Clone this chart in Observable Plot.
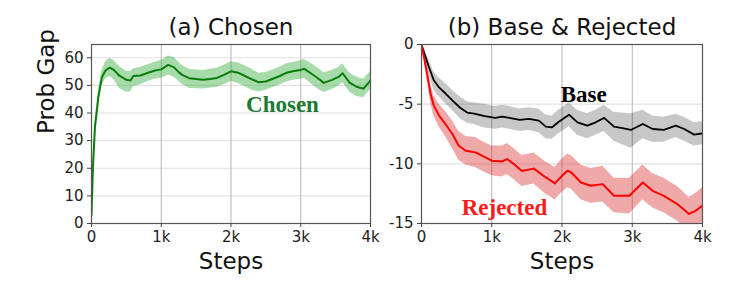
<!DOCTYPE html>
<html><head><meta charset="utf-8">
<script src="https://cdn.jsdelivr.net/npm/d3@7"></script>
<script src="https://cdn.jsdelivr.net/npm/@observablehq/plot@0.6"></script>
<style>
body{margin:0;background:#fff}
#wrap{position:relative;width:747px;height:288px;overflow:hidden}
#wrap svg{position:absolute;top:0}
</style>
</head><body><div id="wrap"></div>
<script>
// ---------- data ----------
const titles = ["(a) Chosen", "(b) Base & Rejected"];
const xLabel = "Steps";
const yLabel = "Prob Gap";
const seriesNames = ["Chosen", "Base", "Rejected"];

const xTicks = [0, 1000, 2000, 3000, 4000];
const xTickLabels = ["0", "1k", "2k", "3k", "4k"];
const yTicksA = [0, 10, 20, 30, 40, 50, 60];
const yTickLabelsA = ["0", "10", "20", "30", "40", "50", "60"];
const yTicksB = [0, -5, -10, -15];
const yTickLabelsB = ["0", "-5", "-10", "-15"];

// (a) Chosen
const stepsA = [0,20,50,100,150,200,260,320,400,500,560,600,700,800,900,1000,1100,1180,1250,1300,1400,1500,1600,1700,1800,1900,2000,2100,2200,2300,2400,2500,2600,2700,2800,2900,3000,3050,3150,3250,3330,3450,3550,3600,3700,3800,3900,4000];
const chosenMean = [3,20,35,46,53,55.4,56.4,55.6,53.5,52,51.8,53.4,53.6,54.5,55.3,55.8,57.4,56.6,54.8,53.8,52.6,52.3,52,52.3,52.7,53.8,55.1,54.6,53.4,52.2,51.1,51.4,52.4,53.4,54.6,55.2,55.6,56,54.3,52.5,50.9,52,53.2,54.4,51,49.5,48.8,51.8];
const chosenLow  = [3,19,33,43.5,50,52.3,53.2,52,49,47.5,47.6,49.5,50.2,51.3,52.2,52.6,53.8,53,51.5,50.4,49,48.8,48.7,49,49.3,50.2,51.4,50.8,49.5,48.2,47.6,48.2,49.2,50.1,51.3,51.9,52.2,52.6,50.6,48.6,47.4,48.5,49.8,51,47.6,46,45.5,48.5];
const chosenHigh = [3,21,37,48.5,55.5,58.5,59.8,59,56.8,55,55,56,56.5,57.4,58.3,59,60.6,60.2,58.4,57.2,55.8,55.6,55.4,55.8,56.2,57.3,58.5,58.2,57.1,55.8,54.4,54.7,55.6,56.6,57.8,58.4,58.9,59.4,57.9,56.2,54.6,55.4,56.6,57.8,54.5,53,52.2,55];

// (b) Base & Rejected
const stepsBase = [0,50,100,175,250,350,450,550,650,750,900,1050,1150,1250,1400,1530,1670,1770,1860,1950,2100,2220,2360,2480,2600,2740,2860,2980,3150,3290,3450,3620,3740,3880,4000];
const baseMean = [0,-0.9,-1.8,-3.0,-3.6,-4.15,-4.75,-5.3,-5.7,-5.8,-6.0,-6.15,-6.04,-6.15,-6.32,-6.24,-6.38,-6.88,-6.94,-6.5,-5.88,-6.52,-6.8,-6.52,-6.15,-6.88,-7.0,-7.16,-6.66,-7.08,-7.16,-6.8,-7.08,-7.55,-7.45];
const baseLow  = [0,-1.2,-2.4,-3.8,-4.4,-5.0,-5.6,-6.2,-6.6,-6.7,-7.0,-7.1,-7.0,-7.1,-7.3,-7.2,-7.4,-7.9,-7.95,-7.5,-6.9,-7.6,-7.9,-7.6,-7.3,-8.1,-8.4,-8.7,-7.9,-8.2,-8.2,-7.8,-8.1,-8.5,-8.4];
const baseHigh = [0,-0.6,-1.2,-2.3,-2.8,-3.3,-3.9,-4.4,-4.8,-4.9,-5.0,-5.2,-5.1,-5.2,-5.4,-5.3,-5.4,-5.9,-6.0,-5.5,-4.9,-5.5,-5.8,-5.5,-5.1,-5.7,-5.75,-5.8,-5.5,-6.0,-6.1,-5.85,-6.1,-6.55,-6.45];

const stepsRej = [0,40,80,130,175,250,340,440,530,630,770,860,1000,1150,1220,1310,1430,1600,1760,1900,2000,2080,2130,2270,2410,2580,2740,2960,3150,3290,3450,3640,3810,3900,4000];
const rejMean = [0,-1.2,-2.46,-4.14,-5.12,-5.96,-6.66,-7.5,-8.48,-8.9,-9.04,-9.32,-9.74,-9.8,-9.6,-10.0,-10.6,-10.4,-11.1,-11.64,-11.0,-10.58,-10.7,-11.56,-11.84,-11.7,-12.68,-12.68,-11.56,-12.26,-12.68,-13.37,-14.2,-13.94,-13.5];
const rejLow  = [0,-1.4,-3.0,-4.9,-6.0,-6.9,-7.7,-8.7,-9.7,-10.1,-10.3,-10.6,-11.0,-11.1,-10.9,-11.3,-11.9,-11.7,-12.5,-13.0,-12.4,-12.0,-12.1,-13.0,-13.3,-13.2,-14.1,-14.2,-13.0,-13.7,-14.1,-14.8,-15.6,-15.4,-14.9];
const rejHigh = [0,-1.0,-1.9,-3.4,-4.3,-5.0,-5.6,-6.4,-7.3,-7.7,-7.8,-8.1,-8.5,-8.5,-8.3,-8.7,-9.3,-9.1,-9.8,-10.3,-9.6,-9.2,-9.3,-10.1,-10.4,-10.2,-11.2,-11.2,-10.1,-10.8,-11.2,-11.9,-12.8,-12.5,-12.0];

// ---------- build ----------
const rows = (steps, mean, lo, hi) => steps.map((s, i) => ({step: s, mean: mean[i], lo: lo[i], hi: hi[i]}));
const chosen = rows(stepsA, chosenMean, chosenLow, chosenHigh);
const base = rows(stepsBase, baseMean, baseLow, baseHigh);
const rej = rows(stepsRej, rejMean, rejLow, rejHigh);

const FONT = "DejaVu Sans";
const SERIF = "Liberation Serif";
const fmt = (ticks, labels) => d => labels[ticks.indexOf(d)];

function common(yTicks, yLabels, gridYTicks) {
  return [
    Plot.gridY(gridYTicks, {stroke: "#e2e2e2", strokeOpacity: 1, strokeWidth: 1.2}),
    Plot.gridX([1000, 2000, 3000], {stroke: "#b4b4b4", strokeOpacity: 1, strokeWidth: 1}),
  ];
}
function axes(yTicks, yLabels) {
  return [
    Plot.frame({stroke: "#555", strokeWidth: 1.2}),
    Plot.axisX({ticks: xTicks, tickFormat: fmt(xTicks, xTickLabels), tickSize: 4, tickPadding: 4, fontSize: 15, label: null, stroke: "#444"}),
    Plot.axisY({ticks: yTicks, tickFormat: fmt(yTicks, yLabels), tickSize: 4, tickPadding: 4, fontSize: 15, label: null, stroke: "#444"}),
    Plot.text([xLabel], {frameAnchor: "bottom", lineAnchor: "bottom", dy: 45, fontSize: 23, fill: "#111"}),
  ];
}

const plotA = Plot.plot({
  width: 375, height: 288,
  marginLeft: 91, marginRight: 5, marginTop: 44, marginBottom: 65,
  x: {domain: [0, 4000]},
  y: {domain: [0, 64.8]},
  style: {fontFamily: FONT, fontSize: "15px", color: "#222", background: "transparent", overflow: "visible"},
  marks: [
    ...common(yTicksA, yTickLabelsA, [10, 20, 30, 40, 50, 60]),
    Plot.areaY(chosen, {x: "step", y1: "lo", y2: "hi", fill: "#3cb043", fillOpacity: 0.45, clip: true}),
    Plot.lineY(chosen, {x: "step", y: "mean", stroke: "#0a7d0a", strokeWidth: 2, clip: true}),
    ...axes(yTicksA, yTickLabelsA),
    Plot.text([titles[0]], {frameAnchor: "top", lineAnchor: "bottom", dy: -10, fontSize: 23, fill: "#111"}),
    Plot.text([yLabel], {frameAnchor: "left", rotate: -90, lineAnchor: "bottom", dx: -38, fontSize: 23, fill: "#111"}),
    Plot.text([seriesNames[0]], {x: 2738, y: 40.4, lineAnchor: "bottom", fontFamily: SERIF, fontWeight: "bold", fontSize: 23, fill: "#1c7a34"}),
  ]
});

const plotB = Plot.plot({
  width: 372, height: 288,
  marginLeft: 46, marginRight: 45, marginTop: 44, marginBottom: 65,
  x: {domain: [0, 4000]},
  y: {domain: [-15, 0]},
  style: {fontFamily: FONT, fontSize: "15px", color: "#222", background: "transparent", overflow: "visible"},
  marks: [
    ...common(yTicksB, yTickLabelsB, [-5, -10]),
    Plot.areaY(base, {x: "step", y1: "lo", y2: "hi", fill: "#000", fillOpacity: 0.22, clip: true}),
    Plot.areaY(rej, {x: "step", y1: "lo", y2: "hi", fill: "#d62728", fillOpacity: 0.4, clip: true}),
    Plot.lineY(base, {x: "step", y: "mean", stroke: "#000", strokeWidth: 1.8, clip: true}),
    Plot.lineY(rej, {x: "step", y: "mean", stroke: "#ff0000", strokeWidth: 2, clip: true}),
    ...axes(yTicksB, yTickLabelsB),
    Plot.text([titles[1]], {frameAnchor: "top", lineAnchor: "bottom", dy: -10, fontSize: 23, fill: "#111"}),
    Plot.text([seriesNames[1]], {x: 2310, y: -4.84, lineAnchor: "bottom", fontFamily: SERIF, fontWeight: "bold", fontSize: 23, fill: "#000"}),
    Plot.text([seriesNames[2]], {x: 1181, y: -14.3, lineAnchor: "bottom", fontFamily: SERIF, fontWeight: "bold", fontSize: 23, fill: "#ff1a1a"}),
  ]
});

plotA.style.left = "0px";
plotB.style.left = "375px";
const wrap = document.getElementById("wrap");
wrap.appendChild(plotA);
wrap.appendChild(plotB);
</script></body></html>
